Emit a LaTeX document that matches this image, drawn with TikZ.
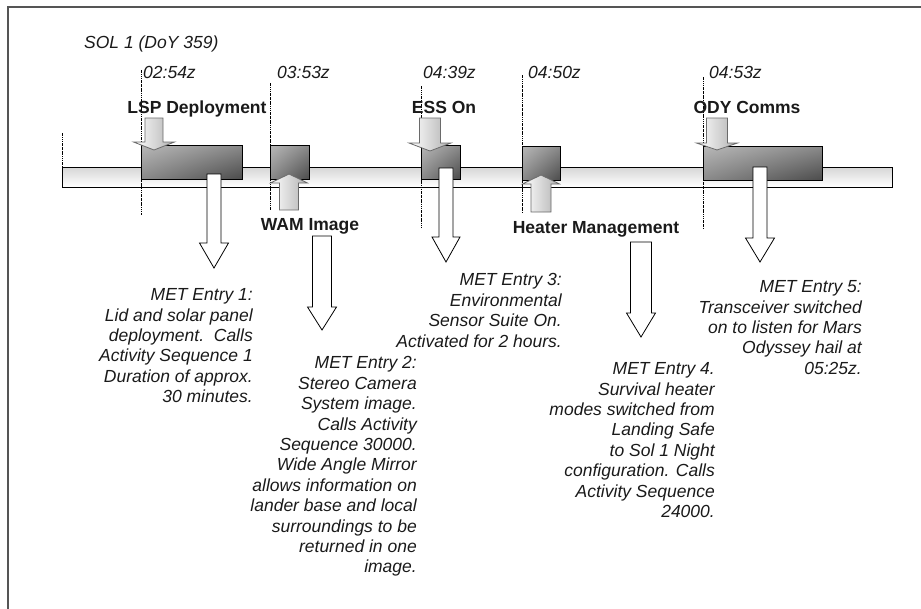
\documentclass[tikz,border=0pt]{standalone}
\usepackage{fontspec}
\setmainfont{Liberation Sans}
\usepackage{tikz}
\usetikzlibrary{shadings}
\definecolor{FrameGraphite}{HTML}{555555}
\definecolor{NoteInk}{HTML}{1A1A1A}
\definecolor{BarPale}{HTML}{D6D6D6}
\definecolor{BoxLight}{HTML}{B8B8B8}
\definecolor{BoxMid}{HTML}{8A8A8A}
\definecolor{BoxDark}{HTML}{4C4C4C}
\definecolor{CueShade}{HTML}{B0B0B0}
\definecolor{CueEdge}{HTML}{6A6A6A}

% block arrow: style, centre x, shaft half, head half, foot y, head y, tip y
\newcommand{\blockarrow}[7]{%
  \draw[#1] ({#2-#3},#5) -- ({#2+#3},#5) -- ({#2+#3},#6) -- ({#2+#4},#6)
    -- (#2,#7) -- ({#2-#4},#6) -- ({#2-#3},#6) -- cycle;}

\begin{document}
\begin{tikzpicture}[
  x=1pt,y=-1pt,
  line join=miter,
  every node/.style={font=\fontsize{17.5}{20.4}\selectfont,text=NoteInk},
  stamp/.style={font=\fontsize{17.5}{20.4}\selectfont\itshape,
    anchor=base west,inner sep=1pt},
  event/.style={font=\fontsize{17.5}{20.4}\selectfont\bfseries,
    anchor=base,inner sep=0pt},
  note/.style={font=\fontsize{17.5}{20.4}\selectfont\itshape,
    align=right,anchor=north east,inner sep=0pt},
  timemark/.style={draw=black,line width=.8pt,
    dash pattern=on 1.6pt off .8pt on .6pt off .8pt},
  timebar/.style={draw=black,line width=.8pt,top color=BarPale,
    bottom color=white},
  actbox/.style={draw=black,line width=.8pt,upper left=BoxLight,
    upper right=BoxMid,lower left=BoxMid,lower right=BoxDark},
  cuearrow/.style={draw=CueEdge,line width=.8pt,shading angle=45,
    left color=white,right color=CueShade},
  outarrow/.style={draw=black,fill=white,line width=.8pt}
]
  \useasboundingbox (0,0) rectangle (921,608);
  \draw[FrameGraphite,line width=1.2pt] (8,7) rectangle (940,630);

  \node[stamp] (sol) at (83,48.5) {SOL 1 (DoY 359)};

  % time line
  \draw[timebar] (62,167) rectangle (892,187);
  \draw[timemark] (62,133) -- (62,167);

  \draw[timemark] (141,70) -- (141,215);
  \draw[timemark] (270,83) -- (270,210);
  \draw[timemark] (421,86) -- (421,228);
  \draw[timemark] (522,75) -- (522,212);
  \draw[timemark] (703,77) -- (703,228);

  \node[stamp] (ts1) at (142,78.5) {02:54z};
  \node[stamp] (ts2) at (276,78.5) {03:53z};
  \node[stamp] (ts3) at (422,78.5) {04:39z};
  \node[stamp] (ts4) at (527,78.5) {04:50z};
  \node[stamp] (ts5) at (708,78.5) {04:53z};

  % activities
  \path[actbox] (141,145) rectangle (242,179);
  \path[actbox] (270,145) rectangle (309,179);
  \path[actbox] (421,145) rectangle (460,179);
  \path[actbox] (522,146) rectangle (560,180);
  \path[actbox] (703,146) rectangle (822,180);

  \node[event] (lsp) at (197,113.5) {LSP Deployment};
  \node[event] (ess) at (444,113.5) {ESS On};
  \node[event] (ody) at (747,113.5) {ODY Comms};
  \node[event] (wam) at (310,230.5) {WAM Image};
  \node[event] (heater) at (596,233.5) {Heater Management};

  \blockarrow{cuearrow}{154}{9}{20.5}{118}{142}{150}
  \blockarrow{cuearrow}{430}{10.5}{21}{118}{143}{151}
  \blockarrow{cuearrow}{717}{10.5}{20.5}{118}{143}{150}
  \blockarrow{cuearrow}{289}{9.5}{18.5}{210}{183}{174}
  \blockarrow{cuearrow}{541}{10}{18.5}{212}{184}{175}

  \blockarrow{outarrow}{214}{7}{14.5}{174}{243}{268}
  \blockarrow{outarrow}{322}{9.5}{14.5}{236}{307}{330}
  \blockarrow{outarrow}{446}{7}{14}{168}{237}{262}
  \blockarrow{outarrow}{641}{10.5}{14.5}{242}{313}{337}
  \blockarrow{outarrow}{760}{7}{14.5}{167}{238}{262}

  % MET entries
  \node[note] (note1) at (253,288.5)
    {MET Entry 1:\\Lid and solar panel\\deployment.\ \ Calls\\
     Activity Sequence 1\\Duration of approx.\\30 minutes.};
  \node[note] (note2) at (417,356.5)
    {MET Entry 2:\\Stereo Camera\\System image.\\Calls Activity\\
     Sequence 30000.\\Wide Angle Mirror\\allows information on\\
     lander base and local\\surroundings to be\\returned in one\\image.};
  \node[note] (note3) at (562,273.5)
    {MET Entry 3:\\Environmental\\Sensor Suite On.\\Activated for 2 hours.};
  \node[note] (note4) at (715,362.5)
    {MET Entry 4.\\Survival heater\\modes switched from\\Landing Safe\\
     to Sol 1 Night\\configuration. Calls\\Activity Sequence\\24000.};
  \node[note] (note5) at (862,280.5)
    {MET Entry 5:\\Transceiver switched\\on to listen for Mars\\
     Odyssey hail at\\05:25z.};
\end{tikzpicture}
\end{document}
